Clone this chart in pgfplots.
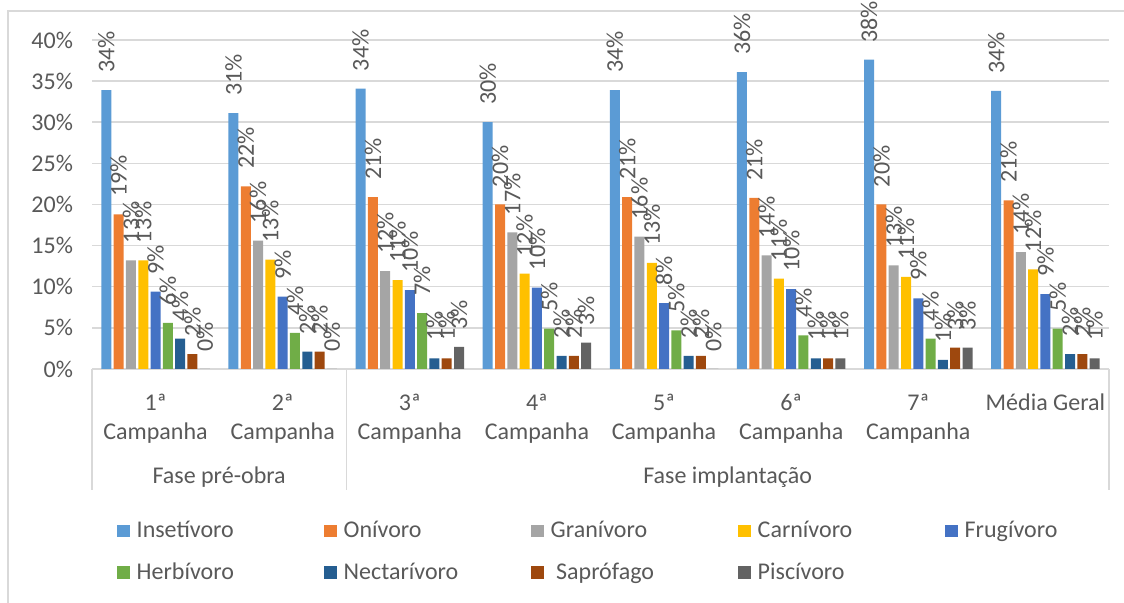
\documentclass[border=0pt]{standalone}
\usepackage{pgfplots}
\usepackage{pgfplotstable}
\usepackage{fontspec}
\setmainfont{Carlito}
\pgfplotsset{compat=1.18}

\definecolor{cIns}{HTML}{5B9BD5}
\definecolor{cOni}{HTML}{ED7D31}
\definecolor{cGra}{HTML}{A5A5A5}
\definecolor{cCar}{HTML}{FFC000}
\definecolor{cFru}{HTML}{4472C4}
\definecolor{cHer}{HTML}{70AD47}
\definecolor{cNec}{HTML}{255E91}
\definecolor{cSap}{HTML}{9E480E}
\definecolor{cPis}{HTML}{636363}
\definecolor{txt}{HTML}{595959}
\definecolor{gridc}{HTML}{D9D9D9}

\newcommand{\lab}{\fontsize{12}{14.5}\selectfont}
\newcommand{\leg}[1]{\makebox[93.7pt][l]{#1}}

% percentages per campaign (0-7 = 1a..7a, media geral)
\pgfplotstableread{
x  Ins  Oni  Gra  Car  Fru  Her  Nec  Sap  Pis
0  33.9 18.8 13.2 13.2 9.4  5.6  3.7  1.8  0
1  31.1 22.2 15.6 13.3 8.8  4.4  2.1  2.1  0
2  34.1 20.9 11.9 10.8 9.6  6.8  1.3  1.3  2.7
3  30.0 20.0 16.6 11.6 9.9  4.9  1.6  1.6  3.2
4  33.9 20.9 16.1 12.9 8.0  4.7  1.6  1.6  0
5  36.1 20.8 13.8 11.0 9.7  4.1  1.3  1.3  1.3
6  37.6 20.0 12.6 11.2 8.6  3.7  1.1  2.6  2.6
7  33.8 20.5 14.2 12.1 9.1  4.9  1.8  1.8  1.3
}\data

\begin{document}
\begin{tikzpicture}
\path[use as bounding box] (0,0) rectangle (562pt,301.5pt);
\draw[gridc, line width=0.75pt] (4pt,0) -- (4pt,296pt) -- (562pt,296pt);
\begin{axis}[
    at={(46pt,117pt)}, anchor=south west,
    scale only axis, width=508.5pt, height=164.5pt,
    ybar=1.15pt, bar width=5pt,
    xmin=-0.5, xmax=7.5, ymin=0, ymax=40,
    enlarge x limits=false,
    axis line style={draw=none},
    major tick length=0pt,
    ymajorgrids, grid style={gridc, line width=0.75pt},
    ytick={0,5,...,40},
    yticklabel={\pgfmathprintnumber{\tick}\%},
    /pgf/number format/assume math mode=true,
    xtick={0,...,7},
    xticklabels={{1ª\\Campanha},{2ª\\Campanha},{3ª\\Campanha},{4ª\\Campanha},
        {5ª\\Campanha},{6ª\\Campanha},{7ª\\Campanha},{Média Geral}},
    ticklabel style={font=\lab, text=txt},
    xticklabel style={align=center, yshift=-9pt},
    yticklabel style={xshift=-6pt},
    nodes near coords={\pgfmathprintnumber[fixed,precision=0]{\pgfplotspointmeta}\%},
    every node near coord/.append style={rotate=90, anchor=west, font=\lab,
        text=txt, inner xsep=8.5pt, inner ysep=0pt},
    clip=false,
    legend columns=5,
    legend style={at={(0.0184,-0.45)}, anchor=north west, draw=none, fill=none,
        font=\lab, text=txt, column sep=3.5pt, row sep=11pt,
        /tikz/every even column/.append style={column sep=0pt},
        nodes={inner sep=0pt}},
    legend image code/.code={\fill[#1,draw=none] (0pt,-3.15pt) rectangle (6.3pt,3.15pt);},
]
\addplot[fill=cIns, draw=none] table[x=x,y=Ins]{\data};
\addlegendentry{\leg{Insetívoro}}
\addplot[fill=cOni, draw=none] table[x=x,y=Oni]{\data};
\addlegendentry{\leg{Onívoro}}
\addplot[fill=cGra, draw=none] table[x=x,y=Gra]{\data};
\addlegendentry{\leg{Granívoro}}
\addplot[fill=cCar, draw=none] table[x=x,y=Car]{\data};
\addlegendentry{\leg{Carnívoro}}
\addplot[fill=cFru, draw=none] table[x=x,y=Fru]{\data};
\addlegendentry{\leg{Frugívoro}}
\addplot[fill=cHer, draw=none] table[x=x,y=Her]{\data};
\addlegendentry{\leg{Herbívoro}}
\addplot[fill=cNec, draw=none] table[x=x,y=Nec]{\data};
\addlegendentry{\leg{Nectarívoro}}
\addplot[fill=cSap, draw=none] table[x=x,y=Sap]{\data};
\addlegendentry{\leg{\ Saprófago}}
\addplot[fill=cPis, draw=none] table[x=x,y=Pis]{\data};
\addlegendentry{\leg{Piscívoro}}

\draw[gridc, line width=0.75pt] (axis cs:-0.5,0) -- ([yshift=-60.5pt]axis cs:-0.5,0);
\draw[gridc, line width=0.75pt] (axis cs:1.5,0) -- ([yshift=-60.5pt]axis cs:1.5,0);
\draw[gridc, line width=0.75pt] (axis cs:7.5,0) -- ([yshift=-60.5pt]axis cs:7.5,0);
\node[font=\lab, text=txt] at ([yshift=-54pt]axis cs:0.5,0) {Fase pré-obra};
\node[font=\lab, text=txt] at ([yshift=-54pt]axis cs:4.5,0) {Fase implantação};
\end{axis}
\end{tikzpicture}
\end{document}
